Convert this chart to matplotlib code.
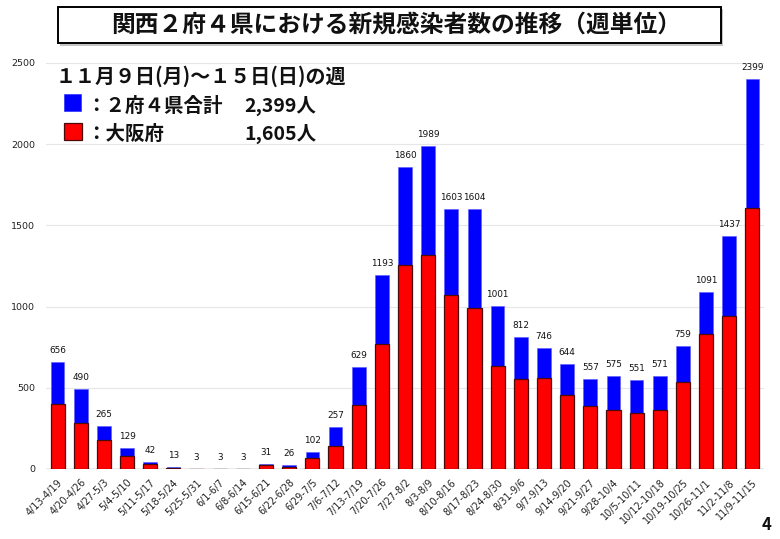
import matplotlib
matplotlib.use("Agg")
import matplotlib.pyplot as plt
from matplotlib.patches import Rectangle

plt.rcParams['font.family'] = ['Noto Sans CJK JP', 'DejaVu Sans']

weeks = ["4/13-4/19", "4/20-4/26", "4/27-5/3", "5/4-5/10", "5/11-5/17", "5/18-5/24",
         "5/25-5/31", "6/1-6/7", "6/8-6/14", "6/15-6/21", "6/22-6/28", "6/29-7/5",
         "7/6-7/12", "7/13-7/19", "7/20-7/26", "7/27-8/2", "8/3-8/9", "8/10-8/16",
         "8/17-8/23", "8/24-8/30", "8/31-9/6", "9/7-9/13", "9/14-9/20", "9/21-9/27",
         "9/28-10/4", "10/5-10/11", "10/12-10/18", "10/19-10/25", "10/26-11/1",
         "11/2-11/8", "11/9-11/15"]
kansai_total = [656, 490, 265, 129, 42, 13, 3, 3, 3, 31, 26, 102, 257, 629, 1193, 1860,
                1989, 1603, 1604, 1001, 812, 746, 644, 557, 575, 551, 571, 759, 1091,
                1437, 2399]
osaka = [400, 283, 178, 80, 30, 9, 2, 2, 2, 25, 15, 66, 143, 394, 770, 1256,
         1318, 1072, 991, 634, 554, 560, 456, 388, 363, 345, 363, 536, 831,
         942, 1605]
y_ticks = [0, 500, 1000, 1500, 2000, 2500]

W, H = 780, 539
latin = ['DejaVu Sans']


def px_box(x0, y0, x1, y1):
    # pixel box (top-left origin) to figure fractions
    return x0 / W, 1 - y1 / H, (x1 - x0) / W, (y1 - y0) / H


def fig_rect(fig, x0, y0, x1, y1, **kw):
    l, b, w, h = px_box(x0, y0, x1, y1)
    fig.add_artist(Rectangle((l, b), w, h, transform=fig.transFigure, **kw))


def fig_text(fig, x, y, s, **kw):
    fig.text(x / W, 1 - y / H, s, **kw)


fig = plt.figure(figsize=(W / 100, H / 100), dpi=100)
ax = fig.add_axes(px_box(46, 63, 764, 469))

x = range(len(weeks))
ax.bar(x, kansai_total, width=0.59, color='#0000ff', edgecolor='#5a5aff', linewidth=0.4, zorder=2)
ax.bar(x, osaka, width=0.61, color='#ff0000', edgecolor='#4a0a0a', linewidth=0.9, zorder=3)

for i, v in enumerate(kansai_total):
    ax.annotate(str(v), (i, v), xytext=(0, 7), textcoords='offset pixels',
                ha='center', va='bottom', fontsize=6.4, family=latin, color='#111111', zorder=4)

ax.set_xlim(-0.5, len(weeks) - 0.5)
ax.set_ylim(0, 2500)
ax.set_yticks(y_ticks)
ax.set_xticks(list(x))
ax.set_xticklabels(weeks, rotation=45, ha='right', rotation_mode='anchor', fontsize=6.9,
                   family=latin, color='#222222')
for t in ax.get_yticklabels():
    t.set_family(latin)
ax.tick_params(axis='both', length=0)
ax.tick_params(axis='y', labelsize=6.8, labelcolor='#222222', pad=8)
ax.tick_params(axis='x', pad=6)
ax.grid(axis='y', color='#e6e6e6', linewidth=0.8, zorder=0)
ax.set_axisbelow(True)
for s in ax.spines.values():
    s.set_visible(False)
ax.axhline(0, color='#e6e6e6', linewidth=1.2, zorder=1)

# title box with soft shadow
fig_rect(fig, 60, 9, 723, 46, facecolor='#c4c4c4', edgecolor='none', zorder=5)
fig_rect(fig, 58, 7, 721, 43, facecolor='white', edgecolor='black', linewidth=1.4, zorder=6)
fig_text(fig, 396, 25, "関西２府４県における新規感染者数の推移（週単位）", ha='center', va='center',
         fontsize=17.1, fontweight='bold', color='#111111', zorder=7)

# week summary block
fig_text(fig, 56, 76, "１１月９日(月)～１５日(日)の週", ha='left', va='center',
         fontsize=14.4, fontweight='bold', color='#111111', zorder=7)
fig_rect(fig, 64, 94, 81, 111, facecolor='#0000ff', edgecolor='#3030ff', linewidth=0.5, zorder=7)
fig_rect(fig, 64, 123, 82, 140, facecolor='#ff0000', edgecolor='#4a0a0a', linewidth=0.9, zorder=7)
fig_text(fig, 86, 106, "：２府４県合計", ha='left', va='center', fontsize=14, fontweight='bold',
         color='#111111', zorder=7)
fig_text(fig, 244, 106, "2,399人", ha='left', va='center', fontsize=14, fontweight='bold',
         color='#111111', zorder=7)
fig_text(fig, 86, 134, "：大阪府", ha='left', va='center', fontsize=14, fontweight='bold',
         color='#111111', zorder=7)
fig_text(fig, 244, 134, "1,605人", ha='left', va='center', fontsize=14, fontweight='bold',
         color='#111111', zorder=7)

# page number
fig_text(fig, 767, 525, "4", ha='center', va='center', fontsize=12, fontweight='bold', color='#111111')

fig.savefig("out.png", dpi=100)
plt.close(fig)
